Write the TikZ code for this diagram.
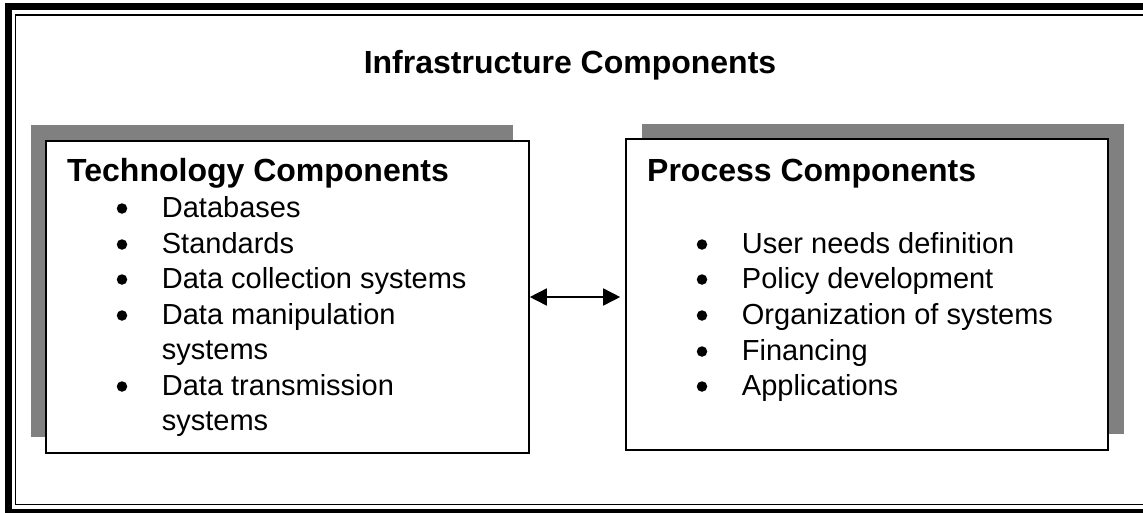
\documentclass[tikz,border=0pt]{standalone}
\usepackage{fontspec}
\setmainfont{Liberation Sans}
\usetikzlibrary{arrows.meta,fit}
\begin{document}
\begin{tikzpicture}[x=1pt,y=-1pt,
  boxframe/.style={draw=black, line width=1.6pt, fill=white, inner sep=0pt},
  boxshadow/.style={fill=shadowgray, inner sep=0pt},
  headtext/.style={inner sep=0pt, anchor=base west, font=\fontsize{32}{38}\selectfont\bfseries},
  titletext/.style={inner sep=0pt, anchor=base, font=\fontsize{32}{38}\selectfont\bfseries},
  itemtext/.style={inner sep=0pt, anchor=base west, font=\fontsize{29}{35}\selectfont},
  bulletdot/.style={circle, fill=black, inner sep=0pt, minimum size=10.5pt},
  link/.style={line width=1.6pt, {Triangle[length=17pt,width=17pt]}-{Triangle[length=17pt,width=17pt]}}
]
\definecolor{shadowgray}{HTML}{808080}
\useasboundingbox (0,0) rectangle (1143,512);
\clip (0,0) rectangle (1143,512);
% outer frame
\draw[line width=7pt] (8.5,6.75) rectangle (1170,512.2);
\draw[line width=1.5pt] (15.5,15) rectangle (1165,504.3);
% title
\node[titletext] (title) at (570,73) {Infrastructure Components};
% left box
\node[boxshadow, fit={(31,125) (513,437)}] (lshadow) {};
\node[boxframe, fit={(46,141) (529,453)}] (lbox) {};
% right box
\node[boxshadow, fit={(642,124) (1124,434)}] (rshadow) {};
\node[boxframe, fit={(626,139) (1108,450)}] (rbox) {};
% left content
\node[headtext] (lhead) at (67,181) {Technology Components};
\foreach \i/\y/\t in {1/217/Databases, 2/253/Standards, 3/288/Data collection systems, 4/324/Data manipulation, 6/395/Data transmission}{
  \node[bulletdot] (lb\i) at (122,\y-8.5) {};
  \node[itemtext] (lt\i) at (161.7,\y) {\t};
}
\node[itemtext] (lt5) at (161.7,359) {systems};
\node[itemtext] (lt7) at (161.7,430) {systems};
% right content
\node[headtext] (rhead) at (647,181) {Process Components};
\foreach \i/\y/\t in {1/253/User needs definition, 2/288/Policy development, 3/324/Organization of systems, 4/360/Financing, 5/395/Applications}{
  \node[bulletdot] (rb\i) at (702,\y-8.5) {};
  \node[itemtext] (rt\i) at (741.7,\y) {\t};
}
% connector
\draw[link] (lbox.east) -- ([xshift=-5pt]rbox.west |- lbox.east);
\end{tikzpicture}
\end{document}
